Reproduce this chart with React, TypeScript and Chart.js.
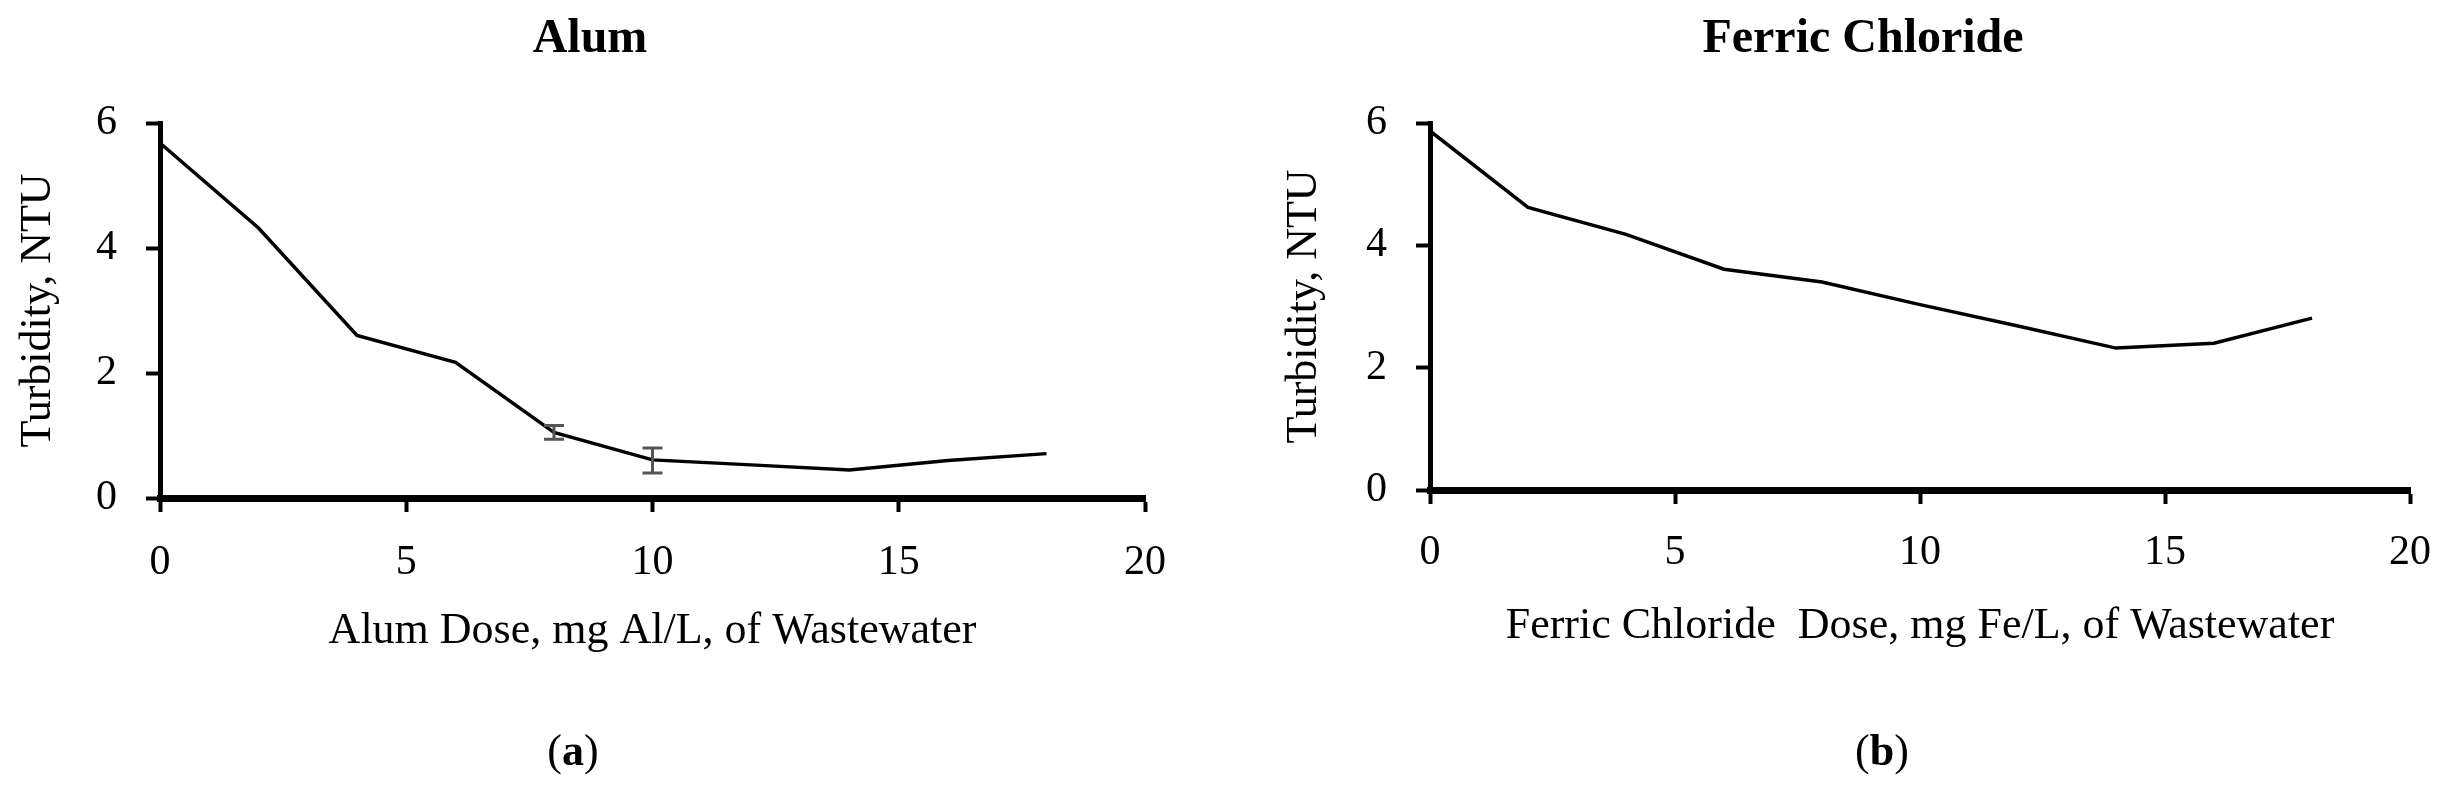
import { useEffect, useRef } from 'react'
import { Chart, registerables } from 'chart.js'

Chart.register(...registerables)

// coagulant dose, mg/L (same for both panels)
const DOSES = [0, 2, 4, 6, 8, 10, 12, 14, 16, 18]
const ALUM_TURBIDITY = [5.68, 4.32, 2.6, 2.17, 1.05, 0.61, 0.53, 0.45, 0.6, 0.71]
const ALUM_ERR_LOW = [null, null, null, null, 0.94, 0.4, null, null, null, null]
const ALUM_ERR_HIGH = [null, null, null, null, 1.16, 0.8, null, null, null, null]
const FERRIC_TURBIDITY = [5.87, 4.62, 4.18, 3.61, 3.4, 3.03, 2.68, 2.32, 2.4, 2.81]
const X_TICKS = [0, 5, 10, 15, 20]
const Y_TICKS = [0, 2, 4, 6]

const FONT = "'Liberation Serif', 'Times New Roman', serif"

type PanelProps = {
  title: string
  letter: string
  xTitle: string
  values: number[]
  errLow?: (number | null)[]
  errHigh?: (number | null)[]
  left: number
  width: number
  padLeft: number
  padRight: number
  padBottom: number
  yWidth: number
  xHeight: number
  xTickPad: number
  titleX: number
  captionX: number
}

function Panel(p: PanelProps) {
  const canvasRef = useRef<HTMLCanvasElement>(null)

  useEffect(() => {
    if (!canvasRef.current) return

    // grey error bars from the low/high arrays
    const errorBars = {
      id: 'errorBars',
      afterDatasetsDraw(chart: any) {
        if (!p.errLow || !p.errHigh) return
        const { ctx, scales: { x, y } } = chart
        ctx.save()
        ctx.strokeStyle = '#555'
        ctx.lineWidth = 3
        DOSES.forEach((d, i) => {
          const lo = p.errLow![i], hi = p.errHigh![i]
          if (lo == null || hi == null) return
          const px = x.getPixelForValue(d)
          const y1 = y.getPixelForValue(lo), y2 = y.getPixelForValue(hi)
          ctx.beginPath()
          ctx.moveTo(px, y1); ctx.lineTo(px, y2)
          ctx.moveTo(px - 10, y1); ctx.lineTo(px + 10, y1)
          ctx.moveTo(px - 10, y2); ctx.lineTo(px + 10, y2)
          ctx.stroke()
        })
        ctx.restore()
      },
    }

    // panel title + "(a)" caption with bold letter
    const panelText = {
      id: 'panelText',
      afterDraw(chart: any) {
        const ctx = chart.ctx
        ctx.save()
        ctx.fillStyle = '#000'
        ctx.textBaseline = 'alphabetic'
        ctx.textAlign = 'center'
        ctx.font = `bold 48px ${FONT}`
        ctx.fillText(p.title, p.titleX, 52)

        const normal = `44px ${FONT}`
        const bold = `bold 44px ${FONT}`
        ctx.textAlign = 'left'
        ctx.font = normal
        const wo = ctx.measureText('(').width
        const wc = ctx.measureText(')').width
        ctx.font = bold
        const wl = ctx.measureText(p.letter).width
        let x = p.captionX - (wo + wl + wc) / 2
        ctx.font = normal; ctx.fillText('(', x, 765); x += wo
        ctx.font = bold; ctx.fillText(p.letter, x, 765); x += wl
        ctx.font = normal; ctx.fillText(')', x, 765)
        ctx.restore()
      },
    }

    const tickFont = { family: FONT, size: 42 }
    const titleFont = { family: FONT, size: 44 }

    const chart = new Chart(canvasRef.current, {
      type: 'line',
      data: {
        datasets: [{
          data: DOSES.map((d, i) => ({ x: d, y: p.values[i] })),
          borderColor: '#000',
          borderWidth: 3.5,
          pointRadius: 0,
          tension: 0,
          fill: false,
        }],
      },
      options: {
        responsive: false,
        animation: false,
        devicePixelRatio: 1,
        layout: { padding: { top: 123, left: p.padLeft, right: p.padRight, bottom: p.padBottom } },
        plugins: { legend: { display: false }, tooltip: { enabled: false }, title: { display: false } },
        scales: {
          x: {
            type: 'linear',
            min: X_TICKS[0],
            max: X_TICKS[X_TICKS.length - 1],
            ticks: { stepSize: X_TICKS[1] - X_TICKS[0], padding: p.xTickPad, font: tickFont, color: '#000' },
            grid: { drawOnChartArea: false, tickLength: 14, tickWidth: 4, tickColor: '#000' },
            border: { color: '#000', width: 7 },
            title: { display: true, text: p.xTitle, font: titleFont, color: '#000', padding: 0 },
            afterFit: (s: any) => { s.height = p.xHeight },
          },
          y: {
            min: Y_TICKS[0],
            max: Y_TICKS[Y_TICKS.length - 1],
            ticks: { stepSize: Y_TICKS[1] - Y_TICKS[0], padding: 29, font: tickFont, color: '#000' },
            grid: { drawOnChartArea: false, tickLength: 14, tickWidth: 4, tickColor: '#000' },
            border: { color: '#000', width: 5 },
            title: { display: true, text: 'Turbidity, NTU', font: titleFont, color: '#000', padding: 0 },
            afterFit: (s: any) => { s.width = p.yWidth },
          },
        },
      },
      plugins: [errorBars, panelText],
    } as any)

    return () => { chart.destroy() }
  }, [])

  return (
    <canvas
      ref={canvasRef}
      width={p.width}
      height={790}
      style={{ position: 'absolute', left: p.left, top: 0, width: p.width, height: 790 }}
    />
  )
}

export default function App() {
  return (
    <div style={{ position: 'absolute', left: 0, top: 0, width: 2455, height: 790, background: '#fff' }}>
      <Panel
        title="Alum"
        letter="a"
        xTitle="Alum Dose, mg Al/L, of Wastewater"
        values={ALUM_TURBIDITY}
        errLow={ALUM_ERR_LOW}
        errHigh={ALUM_ERR_HIGH}
        left={0}
        width={1227}
        padLeft={12}
        padRight={82}
        padBottom={132}
        yWidth={148}
        xHeight={160}
        xTickPad={26}
        titleX={590}
        captionX={573}
      />
      <Panel
        title="Ferric Chloride"
        letter="b"
        xTitle="Ferric Chloride  Dose, mg Fe/L, of Wastewater"
        values={FERRIC_TURBIDITY}
        left={1227}
        width={1228}
        padLeft={51}
        padRight={38}
        padBottom={137}
        yWidth={152}
        xHeight={163}
        xTickPad={24}
        titleX={636}
        captionX={655}
      />
    </div>
  )
}
